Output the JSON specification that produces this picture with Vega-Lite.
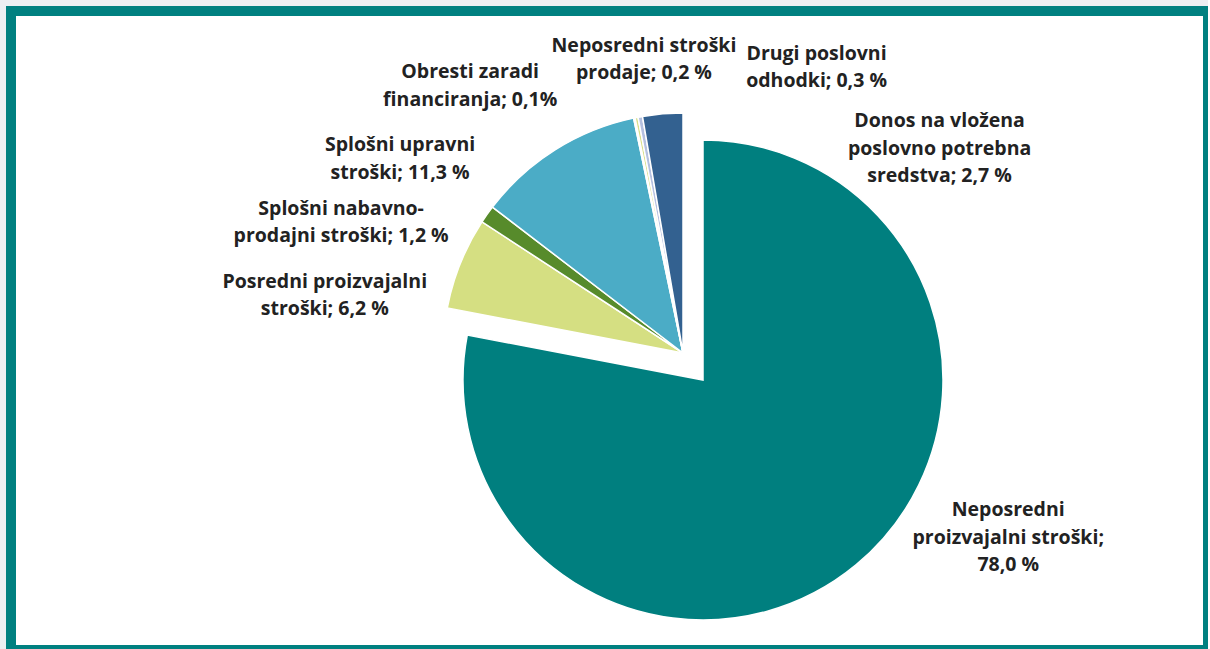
{
  "$schema": "https://vega.github.io/schema/vega-lite/v6.json",
  "width": 1197,
  "height": 639,
  "autosize": {"type": "none"},
  "padding": {"left": 11, "top": 11, "right": 0, "bottom": 0},
  "background": "#eceff2",
  "view": {"stroke": "#008080", "strokeWidth": 10, "fill": "#ffffff"},
  "config": {"view": {"stroke": "#008080", "strokeWidth": 10, "fill": "#ffffff"}},
  "data": {
    "values": [
      {"ord": 1, "cat": "Neposredni proizvajalni stroški", "value": 78.0, "label": "Neposredni\nproizvajalni stroški;\n78,0 %"},
      {"ord": 2, "cat": "Posredni proizvajalni stroški", "value": 6.2, "label": "Posredni proizvajalni\nstroški; 6,2 %"},
      {"ord": 3, "cat": "Splošni nabavno-prodajni stroški", "value": 1.2, "label": "Splošni nabavno-\nprodajni stroški; 1,2 %"},
      {"ord": 4, "cat": "Splošni upravni stroški", "value": 11.3, "label": "Splošni upravni\nstroški; 11,3 %"},
      {"ord": 5, "cat": "Obresti zaradi financiranja", "value": 0.1, "label": "Obresti zaradi\nfinanciranja; 0,1%"},
      {"ord": 6, "cat": "Neposredni stroški prodaje", "value": 0.2, "label": "Neposredni stroški\nprodaje; 0,2 %"},
      {"ord": 7, "cat": "Drugi poslovni odhodki", "value": 0.3, "label": "Drugi poslovni\nodhodki; 0,3 %"},
      {"ord": 8, "cat": "Donos na vložena poslovno potrebna sredstva", "value": 2.7, "label": "Donos na vložena\nposlovno potrebna\nsredstva; 2,7 %"}
    ]
  },
  "encoding": {
    "theta": {"field": "value", "type": "quantitative", "stack": true},
    "order": {"field": "ord", "type": "quantitative"}
  },
  "layer": [
    {
      "mark": {"type": "arc", "outerRadius": 240, "xOffset": 93.5, "yOffset": 49.5, "stroke": "#ffffff", "strokeWidth": 1.5},
      "encoding": {
        "color": {
          "field": "cat", "type": "nominal", "legend": null,
          "scale": {
            "domain": ["Neposredni proizvajalni stroški", "Posredni proizvajalni stroški", "Splošni nabavno-prodajni stroški", "Splošni upravni stroški", "Obresti zaradi financiranja", "Neposredni stroški prodaje", "Drugi poslovni odhodki", "Donos na vložena poslovno potrebna sredstva"],
            "range": ["#007f7f", "#d5df82", "#578b2b", "#4bacc6", "#e6e6e6", "#d9df8a", "#b4c0e0", "#336190"]
          }
        },
        "opacity": {"condition": {"test": "datum.ord === 1", "value": 1}, "value": 0}
      }
    },
    {
      "mark": {"type": "arc", "outerRadius": 240, "xOffset": 73.5, "yOffset": 22.5, "stroke": "#ffffff", "strokeWidth": 1.5},
      "encoding": {
        "color": {"field": "cat", "type": "nominal", "legend": null},
        "opacity": {"condition": {"test": "datum.ord === 1", "value": 0}, "value": 1}
      }
    },
    {
      "mark": {"type": "text", "radius": 300, "xOffset": 73.5, "yOffset": 22.5, "dx": 134, "dy": -74, "font": "Open Sans", "fontWeight": "bold", "fontSize": 19.5, "lineHeight": 27.5, "lineBreak": "\n", "align": "center", "baseline": "middle", "color": "#222222"},
      "encoding": {"text": {"condition": {"test": "datum.ord === 1", "field": "label"}, "value": ""}}
    },
    {
      "mark": {"type": "text", "radius": 300, "xOffset": 73.5, "yOffset": 22.5, "dx": -80, "dy": 41, "font": "Open Sans", "fontWeight": "bold", "fontSize": 19.5, "lineHeight": 27.5, "lineBreak": "\n", "align": "center", "baseline": "middle", "color": "#222222"},
      "encoding": {"text": {"condition": {"test": "datum.ord === 2", "field": "label"}, "value": ""}}
    },
    {
      "mark": {"type": "text", "radius": 300, "xOffset": 73.5, "yOffset": 22.5, "dx": -97, "dy": 29, "font": "Open Sans", "fontWeight": "bold", "fontSize": 19.5, "lineHeight": 27.5, "lineBreak": "\n", "align": "center", "baseline": "middle", "color": "#222222"},
      "encoding": {"text": {"condition": {"test": "datum.ord === 3", "field": "label"}, "value": ""}}
    },
    {
      "mark": {"type": "text", "radius": 300, "xOffset": 73.5, "yOffset": 22.5, "dx": -123, "dy": 46, "font": "Open Sans", "fontWeight": "bold", "fontSize": 19.5, "lineHeight": 27.5, "lineBreak": "\n", "align": "center", "baseline": "middle", "color": "#222222"},
      "encoding": {"text": {"condition": {"test": "datum.ord === 4", "field": "label"}, "value": ""}}
    },
    {
      "mark": {"type": "text", "radius": 300, "xOffset": 73.5, "yOffset": 22.5, "dx": -152, "dy": 13, "font": "Open Sans", "fontWeight": "bold", "fontSize": 19.5, "lineHeight": 27.5, "lineBreak": "\n", "align": "center", "baseline": "middle", "color": "#222222"},
      "encoding": {"text": {"condition": {"test": "datum.ord === 5", "field": "label"}, "value": ""}}
    },
    {
      "mark": {"type": "text", "radius": 300, "xOffset": 73.5, "yOffset": 22.5, "dx": 19, "dy": -13, "font": "Open Sans", "fontWeight": "bold", "fontSize": 19.5, "lineHeight": 27.5, "lineBreak": "\n", "align": "center", "baseline": "middle", "color": "#222222"},
      "encoding": {"text": {"condition": {"test": "datum.ord === 6", "field": "label"}, "value": ""}}
    },
    {
      "mark": {"type": "text", "radius": 300, "xOffset": 73.5, "yOffset": 22.5, "dx": 187, "dy": -4, "font": "Open Sans", "fontWeight": "bold", "fontSize": 19.5, "lineHeight": 27.5, "lineBreak": "\n", "align": "center", "baseline": "middle", "color": "#222222"},
      "encoding": {"text": {"condition": {"test": "datum.ord === 7", "field": "label"}, "value": ""}}
    },
    {
      "mark": {"type": "text", "radius": 300, "xOffset": 73.5, "yOffset": 22.5, "dx": 282, "dy": 67, "font": "Open Sans", "fontWeight": "bold", "fontSize": 19.5, "lineHeight": 27.5, "lineBreak": "\n", "align": "center", "baseline": "middle", "color": "#222222"},
      "encoding": {"text": {"condition": {"test": "datum.ord === 8", "field": "label"}, "value": ""}}
    }
  ]
}
